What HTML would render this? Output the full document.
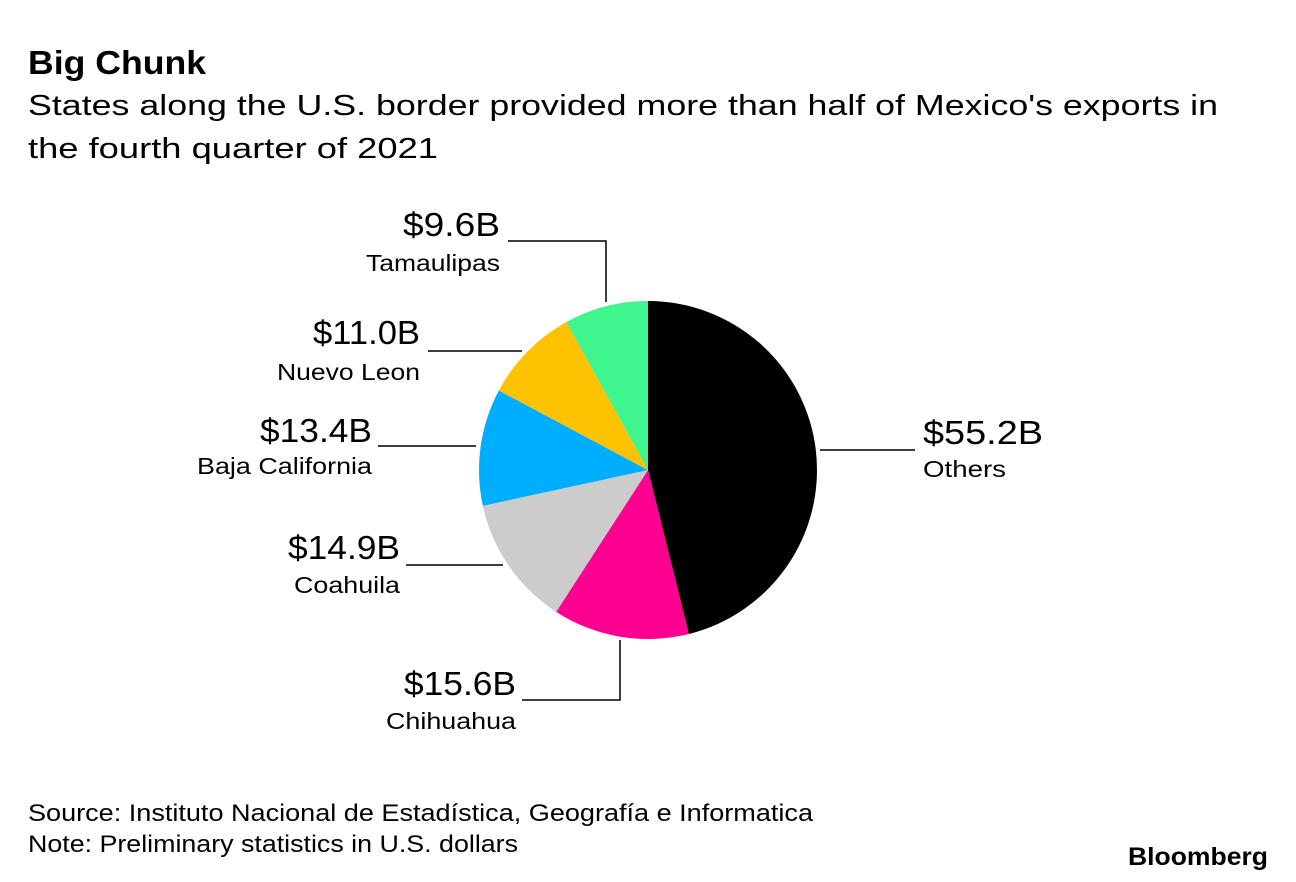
<!DOCTYPE html>
<html><head><meta charset="utf-8"><style>
body{margin:0;width:1296px;height:882px;background:#fff;font-family:"Liberation Sans",sans-serif;overflow:hidden}
svg{position:absolute;left:0;top:0}
</style></head><body>
<svg width="1296" height="882">
<text x="28" y="74" font-size="33" font-weight="bold" textLength="178" lengthAdjust="spacingAndGlyphs">Big Chunk</text>
<text x="28" y="115" font-size="29" textLength="1190" lengthAdjust="spacingAndGlyphs">States along the U.S. border provided more than half of Mexico's exports in</text>
<text x="28" y="158" font-size="29" textLength="410" lengthAdjust="spacingAndGlyphs">the fourth quarter of 2021</text>
<g id="pie"></g>
<g id="labels"></g>
<text x="28" y="821" font-size="24" textLength="785" lengthAdjust="spacingAndGlyphs">Source: Instituto Nacional de Estadística, Geografía e Informatica</text>
<text x="28" y="852" font-size="24" textLength="490" lengthAdjust="spacingAndGlyphs">Note: Preliminary statistics in U.S. dollars</text>
<text x="1128" y="865" font-size="25" font-weight="bold" textLength="140" lengthAdjust="spacingAndGlyphs">Bloomberg</text>
</svg>
<script>
const categories=["Others","Chihuahua","Coahuila","Baja California","Nuevo Leon","Tamaulipas"];
const values=[55.2,15.6,14.9,13.4,11.0,9.6];
const valueLabels=["$55.2B","$15.6B","$14.9B","$13.4B","$11.0B","$9.6B"];
const colors=["#000000","#ff0090","#cccccc","#00aeff","#ffc200","#3ef58e"];
const NS="http://www.w3.org/2000/svg";
const cx=648,cy=470,r=169;
const total=values.reduce((a,b)=>a+b,0);
const pie=document.getElementById('pie');
let a0=0;
function pt(a){return [cx+r*Math.sin(a),cy-r*Math.cos(a)];}
values.forEach((v,i)=>{
  const a1=a0+v/total*2*Math.PI;
  const p0=pt(a0),p1=pt(a1);
  const large=(a1-a0)>Math.PI?1:0;
  const p=document.createElementNS(NS,'path');
  p.setAttribute('d',`M${cx},${cy}L${p0[0]},${p0[1]}A${r},${r} 0 ${large} 1 ${p1[0]},${p1[1]}Z`);
  p.setAttribute('fill',colors[i]);
  
  
  pie.appendChild(p);
  a0=a1;
});
const lay=[
 {tx:923,anchor:"start",vy:444,ny:477,vw:120,nw:83,line:"M820,450H915"},
 {tx:516,anchor:"end",vy:695,ny:729,vw:112,nw:130,line:"M522,700H620V640"},
 {tx:400,anchor:"end",vy:559,ny:593,vw:112,nw:106,line:"M406,565H503"},
 {tx:372,anchor:"end",vy:442,ny:474,vw:112,nw:175,line:"M378,446H476"},
 {tx:420,anchor:"end",vy:344,ny:380,vw:107,nw:143,line:"M428,351H522"},
 {tx:500,anchor:"end",vy:236,ny:271,vw:97,nw:134,line:"M508,241H606V302"}
];
const lg=document.getElementById('labels');
lay.forEach((L,i)=>{
  const ln=document.createElementNS(NS,'path');
  ln.setAttribute('d',L.line);ln.setAttribute('stroke','#000');ln.setAttribute('stroke-width','1.5');ln.setAttribute('fill','none');
  
  
  lg.appendChild(ln);
  const t=document.createElementNS(NS,'text');
  t.setAttribute('x',L.tx);t.setAttribute('y',L.vy);t.setAttribute('font-size','33');t.setAttribute('text-anchor',L.anchor);
  t.setAttribute('textLength',L.vw);t.setAttribute('lengthAdjust','spacingAndGlyphs');
  t.textContent=valueLabels[i];
  
  
  lg.appendChild(t);
  const n=document.createElementNS(NS,'text');
  n.setAttribute('x',L.tx);n.setAttribute('y',L.ny);n.setAttribute('font-size','23');n.setAttribute('text-anchor',L.anchor);
  n.setAttribute('textLength',L.nw);n.setAttribute('lengthAdjust','spacingAndGlyphs');
  n.textContent=categories[i];
  
  
  lg.appendChild(n);
});
</script>
</body></html>
